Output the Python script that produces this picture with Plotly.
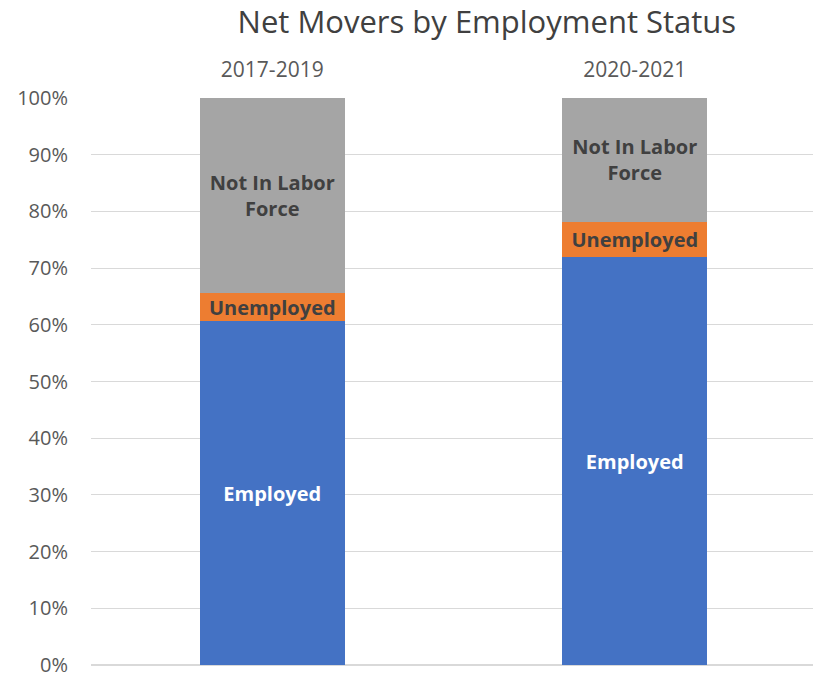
import plotly.graph_objects as go

periods = ["2017-2019", "2020-2021"]
employed = [60.6, 71.9]
unemployed = [5.0, 6.3]
not_in_labor_force = [34.4, 21.8]
y_tick_vals = [0, 10, 20, 30, 40, 50, 60, 70, 80, 90, 100]
y_tick_text = ["0%", "10%", "20%", "30%", "40%", "50%", "60%", "70%", "80%", "90%", "100%"]

FONT = "Open Sans"

series = [
    ("Employed", employed, "#4472C4", "white", "Employed"),
    ("Unemployed", unemployed, "#ED7D31", "#404040", "Unemployed"),
    ("Not In Labor Force", not_in_labor_force, "#A5A5A5", "#404040", "Not In Labor<br>Force"),
]

fig = go.Figure()
for name, vals, color, tcolor, label in series:
    fig.add_trace(go.Bar(
        x=periods, y=vals, name=name,
        marker=dict(color=color, line=dict(width=0)),
        text=[label] * len(vals), textposition="inside",
        insidetextanchor="middle", constraintext="none",
        textfont=dict(family=FONT, size=20, color=tcolor, weight="bold"),
        hoverinfo="skip",
    ))

# page body adds an 8px offset, so the figure is 8px smaller than the window
fig.update_layout(
    barmode="stack", bargap=0.6,
    width=813, height=668,
    margin=dict(l=83, r=5, t=90, b=11, autoexpand=False),
    plot_bgcolor="white", paper_bgcolor="white",
    showlegend=False,
    title=dict(text="Net Movers by Employment Status", x=0.589, xanchor="center",
               xref="container", yref="container",
               y=0.979, yanchor="middle", pad=dict(t=0, b=0),
               font=dict(family=FONT, size=31, color="#404040")),
    font=dict(family=FONT),
    uniformtext=dict(mode=False),
)
fig.update_xaxes(side="top", showline=False, ticks="", showgrid=False, automargin=False,
                 tickfont=dict(family=FONT, size=21, color="#595959"),
                 ticklabelstandoff=16)
fig.update_yaxes(range=[0, 100], tickvals=y_tick_vals, ticktext=y_tick_text,
                 showgrid=True, gridcolor="#D9D9D9", gridwidth=1, zeroline=True,
                 zerolinecolor="#D9D9D9", showline=False, ticks="", automargin=False,
                 ticklabeloverflow="allow",
                 tickfont=dict(family=FONT, size=20, color="#595959"),
                 ticklabelstandoff=22)

fig.write_html("out.html")
